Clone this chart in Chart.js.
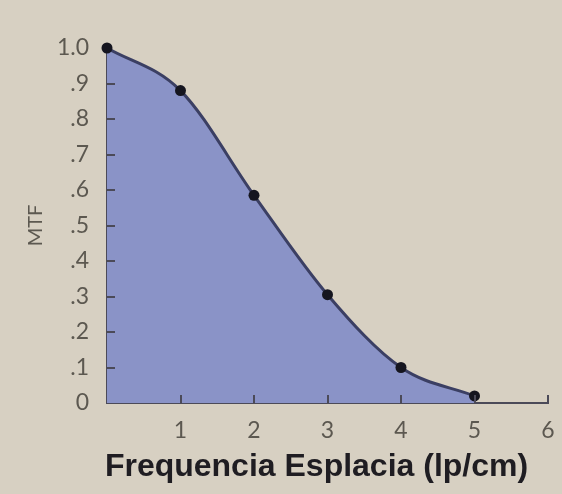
<!DOCTYPE html>
<html lang="es">
<head>
    <meta charset="UTF-8">
    <title>MTF</title>
    <script src="https://cdn.jsdelivr.net/npm/chart.js"></script>
    <style>
        html, body { margin: 0; padding: 0; background: #d7d0c2; }
        #wrap { width: 562px; height: 494px; position: relative; }
    </style>
</head>
<body>
    <div id="wrap">
        <canvas id="mtf-chart" width="562" height="494"></canvas>
    </div>
    <script>
        // frecuencia espacial (lp/cm) y MTF medida
        const freq = [0, 1, 2, 3, 4, 5];
        const mtf = [1.0, 0.88, 0.585, 0.305, 0.10, 0.02];
        const xTicks = [1, 2, 3, 4, 5, 6];
        const yTicks = [0.1, 0.2, 0.3, 0.4, 0.5, 0.6, 0.7, 0.8, 0.9];
        const xTitle = 'Frequencia Esplacia (lp/cm)';

        const axisColor = '#4b4a58';
        const labelColor = '#5c5850';

        // small tick marks pointing into the plot area, plus the x title
        const axisExtras = {
            id: 'axisExtras',
            afterDatasetsDraw(chart) {
                const { ctx, scales: { x, y } } = chart;
                ctx.save();
                ctx.strokeStyle = axisColor;
                ctx.lineWidth = 2;
                ctx.beginPath();
                yTicks.forEach(v => {
                    const py = Math.round(y.getPixelForValue(v));
                    ctx.moveTo(x.left, py);
                    ctx.lineTo(x.left + 8, py);
                });
                xTicks.forEach(v => {
                    const px = Math.round(x.getPixelForValue(v));
                    ctx.moveTo(px, y.bottom);
                    ctx.lineTo(px, y.bottom - 8);
                });
                ctx.stroke();

                ctx.fillStyle = '#1f1d22';
                ctx.font = 'bold 32px "Liberation Sans"';
                ctx.textAlign = 'center';
                ctx.textBaseline = 'middle';
                ctx.fillText(xTitle, (x.left + x.right) / 2 - 11, x.bottom - 27);
                ctx.restore();
            }
        };

        new Chart(document.getElementById('mtf-chart'), {
            type: 'line',
            data: {
                datasets: [{
                    data: freq.map((f, i) => ({ x: f, y: mtf[i] })),
                    borderColor: '#3b3f63',
                    borderWidth: 3,
                    backgroundColor: '#8a93c7',
                    fill: 'origin',
                    cubicInterpolationMode: 'monotone',
                    pointRadius: 5.5,
                    pointBackgroundColor: '#15151f',
                    pointBorderColor: '#15151f',
                    pointBorderWidth: 0
                }]
            },
            options: {
                responsive: false,
                animation: false,
                clip: false,
                layout: { padding: { left: 0, right: 14, top: 48, bottom: 0 } },
                plugins: { legend: { display: false }, tooltip: { enabled: false } },
                scales: {
                    x: {
                        type: 'linear',
                        min: 0,
                        max: 6,
                        afterFit(scale) { scale.height = 91; },
                        grid: { display: false },
                        border: { display: true, color: axisColor, width: 2 },
                        ticks: {
                            stepSize: 1,
                            padding: 6,
                            color: labelColor,
                            font: { family: 'Lato', size: 23 },
                            callback: v => (v === 0 ? '' : String(v))
                        }
                    },
                    y: {
                        min: 0,
                        max: 1,
                        afterFit(scale) { scale.width = 107; },
                        grid: { display: false },
                        border: { display: true, color: axisColor, width: 2 },
                        ticks: {
                            stepSize: 0.1,
                            padding: 10,
                            color: labelColor,
                            font: { family: 'Lato', size: 23 },
                            callback: v => {
                                const n = Math.round(v * 10);
                                if (n === 0) return '0';
                                if (n === 10) return '1.0';
                                return '.' + n;
                            }
                        },
                        title: {
                            display: true,
                            text: 'MTF',
                            color: labelColor,
                            font: { family: 'Lato', size: 20 },
                            padding: { top: 24, bottom: 0 }
                        }
                    }
                }
            },
            plugins: [axisExtras]
        });
    </script>
</body>
</html>
